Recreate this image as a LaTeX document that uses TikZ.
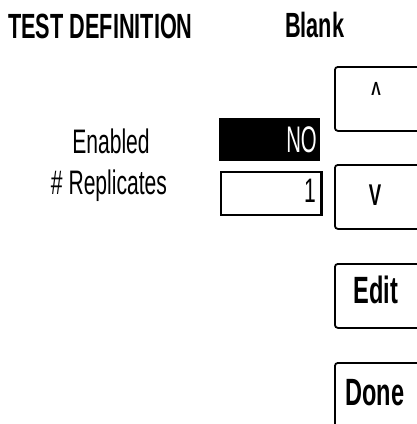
\documentclass[tikz,border=0pt]{standalone}
\usepackage{fontspec}
\newfontfamily\condfont{Liberation Sans}[FakeStretch=0.62]
\newfontfamily\narrowfont{Liberation Sans}[FakeStretch=0.55]
\begin{document}
\begin{tikzpicture}[x=1pt,y=-1pt,
  txt/.style={inner sep=0pt, font=\condfont\fontsize{34}{34}\selectfont},
  head/.style={inner sep=0pt, font=\condfont\bfseries\fontsize{35}{35}\selectfont},
  keytxt/.style={inner sep=0pt, font=\condfont\bfseries\fontsize{38}{38}\selectfont},
  btn/.style={draw=black, line width=1.8pt, rounded corners=3pt, inner sep=0pt,
    anchor=north west, minimum width=90pt},
  field/.style={inner sep=0pt, anchor=north west, minimum width=101pt, minimum height=43pt}]
\useasboundingbox (0,0) rectangle (417,424);
\clip (0,0) rectangle (417,424);

% header line
\node[head, anchor=base west] (title) at (8,38) {TEST DEFINITION};
\node[head, anchor=base west] (blank) at (285,37) {Blank};

% parameter labels
\node[txt, anchor=base] (enabled) at (111,153) {Enabled};
\node[txt, anchor=base] (repl) at (109,194) {\# Replicates};

% value fields
\node[field, fill=black] (enfield) at (219,118) {};
\node[inner sep=0pt, anchor=base east, text=white,
  font=\narrowfont\fontsize{37}{37}\selectfont] (no) at (317,152) {NO};
\node[field, draw=black, line width=2pt] (replfield) at (220,171) {};
\draw[line width=1pt] ([xshift=-3pt]replfield.north east) -- ([xshift=-3pt]replfield.south east);
\node[txt, anchor=base east] (one) at (316,202) {1};

% soft keys on the right edge
\node[btn, minimum height=64pt] (upkey) at (334,66) {};
\node[btn, minimum height=64pt] (downkey) at (334,164) {};
\node[btn, minimum height=64pt] (editkey) at (334,263) {};
\node[btn, minimum height=80pt] (donekey) at (334,362) {};

\node[inner sep=0pt, anchor=base, font=\condfont\bfseries\fontsize{19}{19}\selectfont] (uplbl) at (376,95) {\scalebox{1.2}[1.0]{Λ}};
\node[inner sep=0pt, anchor=base, font=\condfont\bfseries\fontsize{30}{30}\selectfont] (downlbl) at (375,205) {V};
\node[keytxt, anchor=base] (editlbl) at (376,303) {Edit};
\node[keytxt, anchor=base] (donelbl) at (375,405) {Done};
\end{tikzpicture}
\end{document}
